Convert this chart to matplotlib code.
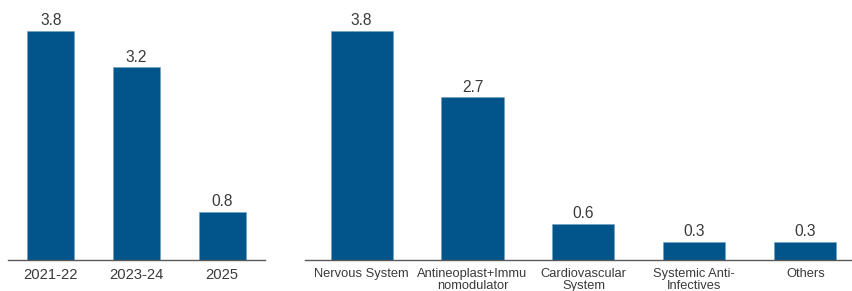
import matplotlib.pyplot as plt

plt.rcParams['font.family'] = ['Liberation Sans', 'DejaVu Sans']

years = ['2021-22', '2023-24', '2025']
year_vals = [3.8, 3.2, 0.8]

areas = ['Nervous System', 'Antineoplast+Immu\nnomodulator', 'Cardiovascular\nSystem',
         'Systemic Anti-\nInfectives', 'Others']
area_vals = [3.8, 2.7, 0.6, 0.3, 0.3]

bar_color = '#01558a'
text_color = '#3a3a3a'

W, H = 853, 291
fig = plt.figure(figsize=(W / 100, H / 100), dpi=100)

def panel(rect, labels, vals, xlim, width, tick_fs, pad):
    ax = fig.add_axes(rect)
    x = range(len(vals))
    bars = ax.bar(x, vals, width=width, color=bar_color, edgecolor='#6f9fc0', linewidth=0.4)
    for b, v in zip(bars, vals):
        ax.text(b.get_x() + b.get_width() / 2, v + 0.04, f'{v:.1f}', ha='center', va='bottom',
                fontsize=11.2, color=text_color)
    ax.set_xlim(*xlim)
    ax.set_ylim(0, 4.31)
    ax.set_xticks(list(x))
    ax.set_xticklabels(labels, fontsize=tick_fs, color=text_color, linespacing=0.95)
    ax.tick_params(axis='x', length=0, pad=pad)
    ax.set_yticks([])
    for s in ['top', 'right', 'left']:
        ax.spines[s].set_visible(False)
    ax.spines['bottom'].set_color('#595959')
    ax.spines['bottom'].set_linewidth(1.0)
    ax.patch.set_alpha(0)
    return ax

bottom = (H - 260) / H
height = 260 / H
panel([8 / W, bottom, 257 / W, height], years, year_vals, (-0.5, 2.5), 0.55, 10.6, 6)
panel([305 / W, bottom, 548 / W, height], areas, area_vals, (-0.51, 4.43), 0.56, 9.3, 6)

fig.savefig('out.png', dpi=100)
